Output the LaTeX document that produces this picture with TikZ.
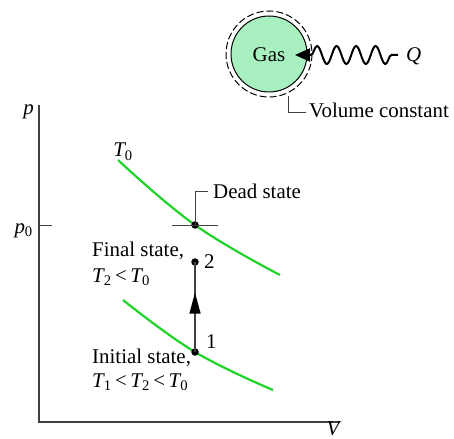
\documentclass[tikz,border=0pt]{standalone}
\usepackage{fontspec}
\setmainfont{Liberation Serif}
\usetikzlibrary{arrows.meta,decorations.pathmorphing,decorations.markings}
\definecolor{curvegreen}{RGB}{30,212,40}
\definecolor{gasfill}{RGB}{168,240,192}
\definecolor{axisgray}{RGB}{64,64,64}
\tikzset{
  lbl/.style={inner sep=0pt, font=\fontsize{21}{25}\selectfont},
  dot/.style={circle, fill=black, inner sep=0pt, minimum size=7.5bp},
  iso/.style={curvegreen, line width=2.2bp},
  axisline/.style={axisgray, line width=1.3bp},
  leader/.style={axisgray, line width=1bp},
}
\newcommand{\sub}[1]{\textsubscript{\upshape #1}}
\begin{document}
\begin{tikzpicture}[x=1bp,y=-1bp]
\useasboundingbox (0,0) rectangle (454,439);
% gas system
\node[circle, fill=gasfill, draw=black, line width=1bp, minimum size=76bp, inner sep=0pt] (gas) at (269,54) {};
\node[lbl, anchor=base] (gastext) at (269,62) {Gas};
\draw[black, line width=1bp, dash pattern=on 7bp off 3bp] (gas.center) circle[radius=43];
\coordinate (snakeend) at (398,55);
\coordinate (snakestart) at (311,55);
\coordinate (arrowtip) at (295,55);
\draw[black, line width=2bp, decorate, decoration={snake, segment length=19.5bp, amplitude=9bp}] (snakestart) -- (snakeend);
\draw[black, line width=2bp, -{Triangle[length=15bp,width=13bp]}] (snakestart) -- (arrowtip);
\node[lbl, anchor=base west] (Q) at (406,62) {\itshape Q};
\coordinate (vc1) at (288,96);
\coordinate (vc2) at (288,113);
\coordinate (vc3) at (306,113);
\draw[leader] (vc1) -- (vc2) -- (vc3);
\node[lbl, anchor=base west] (vctext) at (309,118) {Volume constant};
% axes
\coordinate (ytop) at (39,105);
\coordinate (origin) at (39,422);
\coordinate (xend) at (340,422);
\draw[axisline] (ytop) -- (origin) -- (xend);
\node[lbl, anchor=east] (plabel) at (34,112) {\itshape p};
\node[lbl, anchor=base] (Vlabel) at (333,435) {\itshape V};
\coordinate (p0a) at (39,225);
\coordinate (p0b) at (52,225);
\draw[leader] (p0a) -- (p0b);
\node[lbl, anchor=base east] (p0label) at (33,233) {\itshape p\sub{0}};
% isotherms
\draw[iso] plot[smooth, tension=0.7] coordinates {(118,160) (195,225) (280,275)};
\draw[iso] plot[smooth, tension=0.7] coordinates {(123,300) (195,352) (273,390)};
\node[lbl, anchor=base] (T0label) at (123,157) {\itshape T\sub{0}};
% dead state
\node[dot] (dead) at (195,225) {};
\coordinate (dsl) at (172,225);
\coordinate (dsr) at (218,225);
\draw[leader] (dsl) -- (dsr);
\coordinate (dsup) at (195,192);
\coordinate (dsend) at (208,192);
\draw[leader] (dead.center) -- (dsup) -- (dsend);
\node[lbl, anchor=base west] (deadtext) at (213,199) {Dead state};
% states
\node[dot] (s2) at (195,262) {};
\node[dot] (s1) at (195,352) {};
\draw[leader, line width=1.3bp, postaction={decorate}, decoration={markings, mark=at position 0.66 with {\arrow[black]{Triangle[length=21bp,width=11bp]}}}] (s1.center) -- (s2.center);
\node[lbl, anchor=base west] (lbl2) at (204,268) {2};
\node[lbl, anchor=base west] (lbl1) at (206,348) {1};
\node[lbl, anchor=base west] (final1) at (92,256) {Final state,};
\node[lbl, anchor=base west] (final2) at (92,282) {\itshape T\sub{2}\upshape\,<\,\itshape T\sub{0}};
\node[lbl, anchor=base west] (init1) at (92,363) {Initial state,};
\node[lbl, anchor=base west] (init2) at (92,387) {\itshape T\sub{1}\upshape\,<\,\itshape T\sub{2}\upshape\,<\,\itshape T\sub{0}};
\end{tikzpicture}
\end{document}
